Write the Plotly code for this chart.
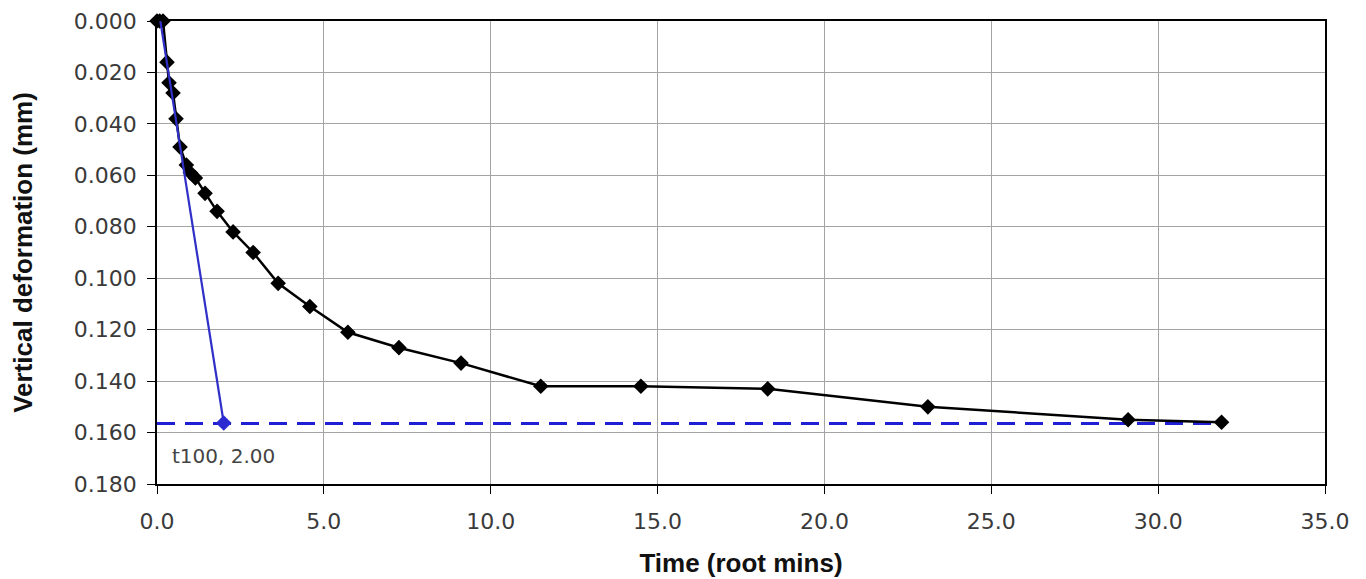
import plotly.graph_objects as go

# Data
time_root = [0.0, 0.08, 0.18, 0.30, 0.36, 0.48, 0.57, 0.69, 0.88, 1.0, 1.15, 1.44, 1.80, 2.28,
             2.88, 3.63, 4.58, 5.72, 7.25, 9.11, 11.5, 14.5, 18.3, 23.1, 29.1, 31.9]
deformation = [0.000, 0.000, 0.000, 0.016, 0.024, 0.028, 0.038, 0.049, 0.056, 0.059, 0.061,
               0.067, 0.074, 0.082, 0.090, 0.102, 0.111, 0.121, 0.127, 0.133, 0.142, 0.142,
               0.143, 0.150, 0.155, 0.156]

tangent_x = [0.1, 2.0]
tangent_y = [0.000, 0.1563]
t100_x = 2.0
t100_y = 0.1563
d100_y = 0.1565
annot_text = "t100, 2.00"

x_ticks = [0, 5, 10, 15, 20, 25, 30, 35]
y_ticks = [0.0, 0.02, 0.04, 0.06, 0.08, 0.10, 0.12, 0.14, 0.16, 0.18]

TICK_FONT = dict(family="DejaVu Sans", size=22, color="#3a3a3a")
TITLE_FONT = dict(family="Liberation Sans, Arial", size=26, color="#111111")

fig = go.Figure()

fig.add_trace(go.Scatter(
    x=[0, time_root[-1]], y=[d100_y, d100_y], mode="lines",
    line=dict(color="#1f1fd6", width=3, dash="18px,10px"), showlegend=False, hoverinfo="skip"))

fig.add_trace(go.Scatter(
    x=time_root, y=deformation, mode="lines+markers", cliponaxis=False,
    line=dict(color="black", width=2.5),
    marker=dict(symbol="diamond", size=12, color="black"),
    showlegend=False))

fig.add_trace(go.Scatter(
    x=tangent_x, y=tangent_y, mode="lines",
    line=dict(color="#3030c8", width=2.2), showlegend=False))

fig.add_trace(go.Scatter(
    x=[t100_x], y=[t100_y], mode="markers",
    marker=dict(symbol="diamond", size=12, color="#2a2ad0"), showlegend=False))

fig.add_annotation(x=0, y=t100_y, text=annot_text, showarrow=False,
                   xref="x", yref="y", xanchor="left", yanchor="middle",
                   xshift=13, yshift=-33,
                   font=dict(family="DejaVu Sans", size=20, color="#444444"))

fig.update_xaxes(
    range=[0, 35], tickvals=x_ticks, tickformat=".1f",
    showgrid=True, gridcolor="#a4a4a4", gridwidth=1,
    showline=True, linecolor="black", linewidth=1.5, mirror=True,
    ticks="outside", ticklen=8, tickcolor="black", ticklabelstandoff=9,
    zeroline=False, automargin=False,
    tickfont=TICK_FONT,
    title=dict(text="<b>Time (root mins)</b>", standoff=21, font=TITLE_FONT))

fig.update_yaxes(
    range=[0.18, 0], tickvals=y_ticks, tickformat=".3f",
    showgrid=True, gridcolor="#a4a4a4", gridwidth=1,
    showline=True, linecolor="black", linewidth=1.5, mirror=True,
    ticks="outside", ticklen=8, tickcolor="black", ticklabelstandoff=6,
    zeroline=False, automargin=False,
    tickfont=TICK_FONT,
    title=dict(text="<b>Vertical deformation (mm)</b>", standoff=35, font=TITLE_FONT))

fig.update_layout(
    width=1358, height=571,
    margin=dict(l=149, r=41, t=13, b=95, autoexpand=False),
    paper_bgcolor="white", plot_bgcolor="white",
)

fig.write_html("out.html")
